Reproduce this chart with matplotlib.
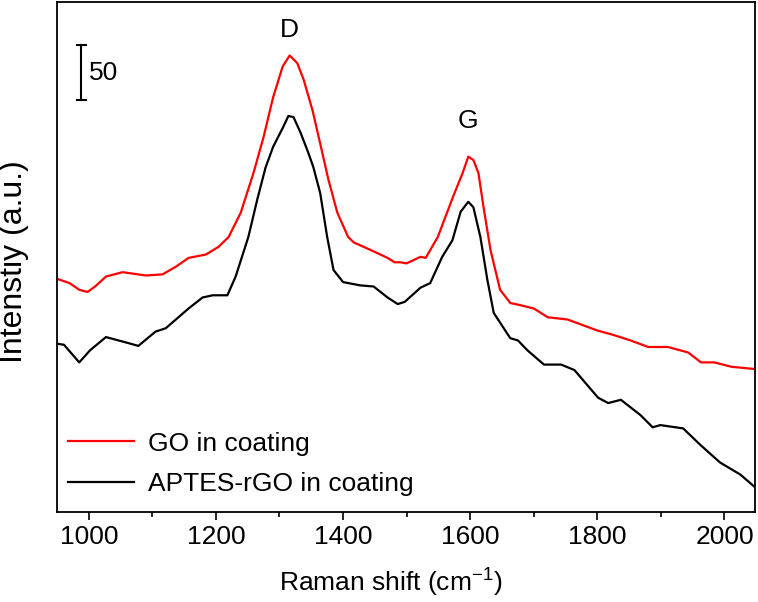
import matplotlib
matplotlib.use("Agg")
import matplotlib.pyplot as plt

plt.rcParams['font.family'] = ['Liberation Sans', 'DejaVu Sans']

# Raman spectra (intensity in counts, offset stacked)
go_x = [950, 970, 985, 998, 1010, 1027, 1053, 1090, 1116, 1137, 1157, 1184, 1204,
        1220, 1239, 1259, 1275, 1290, 1305, 1316, 1328, 1338, 1352, 1364, 1377,
        1391, 1408, 1417, 1444, 1470, 1481, 1490, 1500, 1522, 1530, 1549, 1574,
        1588, 1597, 1605, 1613, 1621, 1632, 1647, 1663, 1679, 1700, 1722, 1753,
        1800, 1825, 1852, 1880, 1911, 1943, 1963, 1984, 2011, 2047]
go_y = [212, 208, 202, 200, 205, 214, 218, 215, 216, 223, 231, 234, 241,
        250, 272, 308, 341, 377, 405, 415, 408, 393, 365, 335, 302,
        272, 250, 245, 238, 231, 227, 227, 226, 232, 231, 250, 288,
        308, 323, 320, 308, 277, 238, 202, 190, 188, 185, 177, 175,
        165, 161, 156, 150, 150, 145, 136, 136, 132, 130]

rgo_x = [950, 961, 985, 1002, 1027, 1053, 1078, 1105, 1121, 1157, 1179, 1195, 1218,
         1231, 1251, 1265, 1278, 1290, 1305, 1314, 1322, 1333, 1345, 1353, 1364,
         1375, 1385, 1400, 1427, 1448, 1470, 1486, 1497, 1522, 1537, 1556, 1572,
         1585, 1597, 1605, 1616, 1627, 1637, 1663, 1675, 1690, 1716, 1743, 1764,
         1801, 1817, 1837, 1868, 1887, 1899, 1935, 1962, 1993, 2025, 2047]
rgo_y = [153, 152, 136, 147, 159, 155, 151, 164, 167, 185, 195, 197, 197,
         214, 250, 284, 313, 332, 349, 360, 359, 345, 327, 314, 290,
         250, 220, 209, 206, 205, 195, 189, 191, 204, 208, 232, 247,
         273, 282, 277, 250, 211, 181, 158, 156, 147, 134, 134, 129,
         104, 99, 102, 88, 77, 79, 76, 61, 45, 34, 23]

fig = plt.figure(figsize=(7.58, 6.02), dpi=100)
ax = fig.add_axes([57 / 758, 1 - 512 / 602, (755 - 57) / 758, (512 - 2) / 602])

ax.plot(go_x, go_y, color='red', lw=1.6, label='GO in coating')
ax.plot(rgo_x, rgo_y, color='black', lw=1.6, label='APTES-rGO in coating')

ax.set_xlim(950, 2048)
ax.set_ylim(0, 463.6)

# scale bar
ax.plot([988.5, 988.5], [374.5, 424.5], color='black', lw=1.5)
ax.plot([981, 996], [424.5, 424.5], color='black', lw=1.5)
ax.plot([981, 996], [374.5, 374.5], color='black', lw=1.5)
ax.text(1001, 399, '50', fontsize=19, va='center', ha='left')

ax.text(1316, 438, 'D', fontsize=19, ha='center', va='center')
ax.text(1597, 355, 'G', fontsize=19, ha='center', va='center')

ax.set_xticks([1000, 1200, 1400, 1600, 1800, 2000])
ax.set_xticks([1100, 1300, 1500, 1700, 1900], minor=True)
ax.set_yticks([])
ax.tick_params(axis='x', which='major', direction='out', length=6, width=1.2, labelsize=19)
ax.tick_params(axis='x', which='minor', direction='out', length=3.5, width=1.2)
for s in ax.spines.values():
    s.set_linewidth(1.3)

ax.set_xlabel('Raman shift (cm$^{\\mathregular{-1}}$)', fontsize=19)
ax.xaxis.set_label_coords(0.4785, -0.105)
ax.set_ylabel('Intenstiy (a.u.)', fontsize=23)
ax.yaxis.set_label_coords(-0.04, 0.49)

ax.legend(loc='lower left', bbox_to_anchor=(-0.01, -0.005), frameon=False, fontsize=19,
          handlelength=2.5, handletextpad=0.5, labelspacing=0.62, borderaxespad=0.3)

fig.savefig('out.png', dpi=100)
